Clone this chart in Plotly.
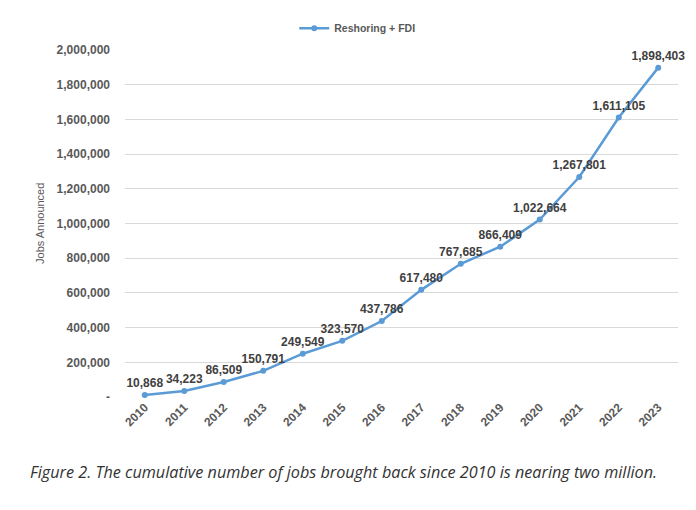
import plotly.graph_objects as go

years = ["2010", "2011", "2012", "2013", "2014", "2015", "2016",
         "2017", "2018", "2019", "2020", "2021", "2022", "2023"]
jobs = [10868, 34223, 86509, 150791, 249549, 323570, 437786,
        617480, 767685, 866409, 1022664, 1267801, 1611105, 1898403]
series_name = "Reshoring + FDI"
y_ticks = [0, 200000, 400000, 600000, 800000, 1000000, 1200000,
           1400000, 1600000, 1800000, 2000000]
y_tick_text = ["-"] + [f"{v:,}" for v in y_ticks[1:]]
y_title = "Jobs Announced"
caption = "Figure 2. The cumulative number of jobs brought back since 2010 is nearing two million."

fig = go.Figure()
fig.add_trace(go.Scatter(
    x=years, y=jobs, name=series_name,
    mode="lines+markers+text",
    line=dict(color="#5B9BD5", width=2.5),
    marker=dict(size=6, color="#5B9BD5"),
    text=[f"{v:,}" for v in jobs],
    textposition="top center",
    textfont=dict(family="Liberation Sans", size=12, color="#404040", weight="bold"),
    cliponaxis=False,
))

fig.update_layout(
    width=696, height=510,
    margin=dict(l=125, r=18, t=50, b=113),
    paper_bgcolor="white", plot_bgcolor="white",
    showlegend=True,
    legend=dict(orientation="h", x=0.42, y=1.063, xanchor="center", yanchor="middle",
                font=dict(family="Liberation Sans", size=10.5, color="#595959", weight="bold"),
                bgcolor="rgba(0,0,0,0)"),
    xaxis=dict(type="category", range=[-0.5, len(years) - 0.5], tickangle=-45,
               showgrid=False, showline=False, automargin=False, ticks="",
               tickfont=dict(family="Liberation Sans", size=12, color="#595959", weight="bold")),
    yaxis=dict(range=[0, 2000000], tickvals=y_ticks, ticktext=y_tick_text,
               showgrid=True, gridcolor="#D9D9D9", gridwidth=1, zeroline=False,
               showline=False, ticks="", ticklen=0, automargin=False,
               ticklabelstandoff=14,
               tickfont=dict(family="Liberation Sans", size=12, color="#595959", weight="bold")),
    annotations=[
        dict(text=y_title, xref="paper", yref="paper", x=-0.1537, y=0.4986,
             xanchor="center", yanchor="middle", textangle=-90, showarrow=False,
             font=dict(family="Liberation Sans", size=11, color="#595959")),
        dict(text=caption, xref="paper", yref="paper",
             x=-0.1754, y=-0.216, xanchor="left", yanchor="middle",
             showarrow=False,
             font=dict(family="Open Sans", size=16.2, color="#333333", style="italic")),
    ],
)

fig.write_html("out.html")
